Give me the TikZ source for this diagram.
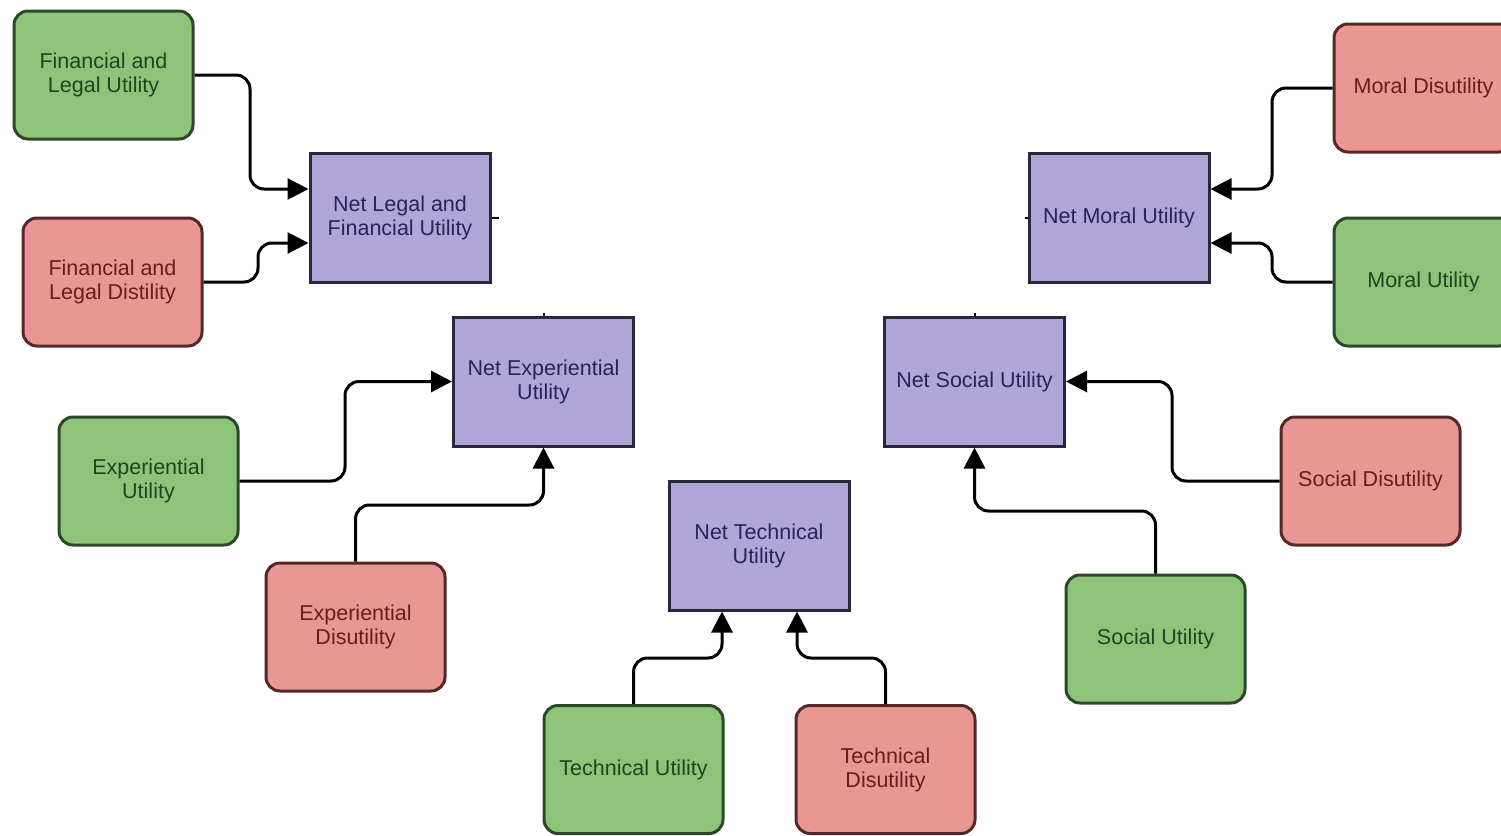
\documentclass[tikz,border=0pt]{standalone}
\usepackage{fontspec}
\setmainfont{Liberation Sans}
\usetikzlibrary{arrows.meta,calc}
\definecolor{gfill}{RGB}{141,196,122}
\definecolor{gline}{RGB}{45,72,40}
\definecolor{gtext}{RGB}{30,70,30}
\definecolor{rfill}{RGB}{234,151,148}
\definecolor{rline}{RGB}{85,40,40}
\definecolor{rtext}{RGB}{105,28,30}
\definecolor{pfill}{RGB}{177,166,216}
\definecolor{pline}{RGB}{40,40,60}
\definecolor{ptext}{RGB}{42,34,90}
\begin{document}
\begin{tikzpicture}[x=1pt,y=-1pt,
  boxbase/.style={minimum width=179pt, minimum height=128pt, line width=3pt, align=center,
    font=\fontsize{21.5pt}{24pt}\selectfont, inner sep=2pt},
  gbox/.style={boxbase, draw=gline, fill=gfill, text=gtext, rounded corners=14pt},
  rbox/.style={boxbase, draw=rline, fill=rfill, text=rtext, rounded corners=14pt},
  pbox/.style={boxbase, draw=pline, fill=pfill, text=ptext, minimum width=180pt, minimum height=129pt},
  conn/.style={line width=3pt, draw=black, rounded corners=14pt, -{Triangle[length=21pt,width=21pt]}},
  stub/.style={line width=2pt, draw=black}]
\clip (0,0) rectangle (1501,835);
\fill[white] (0,0) rectangle (1501,835);
% purple net nodes
\node[pbox] (nlf) at (400,217.5) {Net Legal and\\Financial Utility};
\node[pbox] (neu) at (543.5,381.5) {Net Experiential\\Utility};
\node[pbox] (ntu) at (759,545.5) {Net Technical\\Utility};
\node[pbox] (nsu) at (974.5,381.5) {Net Social Utility};
\node[pbox] (nmu) at (1119,217.5) {Net Moral Utility};
% green / red nodes
\node[gbox] (flu) at (103.5,75) {Financial and\\Legal Utility};
\node[rbox] (fld) at (112.5,282) {Financial and\\Legal Distility};
\node[gbox] (eu) at (148.5,481) {Experiential\\Utility};
\node[rbox] (ed) at (355.5,627) {Experiential\\Disutility};
\node[gbox] (tu) at (633.5,769.5) {Technical Utility};
\node[rbox] (td) at (885.5,769.5) {Technical\\Disutility};
\node[gbox] (su) at (1155.5,639) {Social Utility};
\node[rbox] (sd) at (1370.5,481) {Social Disutility};
\node[rbox] (md) at (1423.5,88) {Moral Disutility};
\node[gbox] (mu) at (1423.5,282) {Moral Utility};
% connectors
\draw[conn] (flu.east) -- (250,75) -- (250,189) -- ($(nlf.west)+(0,-28.5)$);
\draw[conn] (fld.east) -- (258,282) -- (258,243) -- ($(nlf.west)+(0,25.5)$);
\draw[conn] (eu.east) -- (345,481) -- (345,381.5) -- (neu.west);
\draw[conn] (ed.north) -- (355.5,505) -- (543.5,505) -- (neu.south);
\draw[conn] (tu.north) -- (633.5,658) -- (722,658) -- ($(ntu.south)+(-37,0)$);
\draw[conn] (td.north) -- (885.5,658) -- (797,658) -- ($(ntu.south)+(38,0)$);
\draw[conn] (su.north) -- (1155.5,511) -- (974.5,511) -- (nsu.south);
\draw[conn] (sd.west) -- (1172,481) -- (1172,381.5) -- (nsu.east);
\draw[conn] (md.west) -- (1272,88) -- (1272,189) -- ($(nmu.east)+(0,-28.5)$);
\draw[conn] (mu.west) -- (1272,282) -- (1272,243) -- ($(nmu.east)+(0,25.5)$);
% small stubs
\coordinate (s1) at ($(nlf.east)+(7,0)$);
\coordinate (s2) at ($(neu.north)+(0,-3)$);
\coordinate (s3) at ($(nsu.north)+(0,-3)$);
\coordinate (s4) at ($(nmu.west)+(-3,0)$);
\draw[stub] (nlf.east) -- (s1);
\draw[stub] (neu.north) -- (s2);
\draw[stub] (nsu.north) -- (s3);
\draw[stub] (nmu.west) -- (s4);
\end{tikzpicture}
\end{document}
